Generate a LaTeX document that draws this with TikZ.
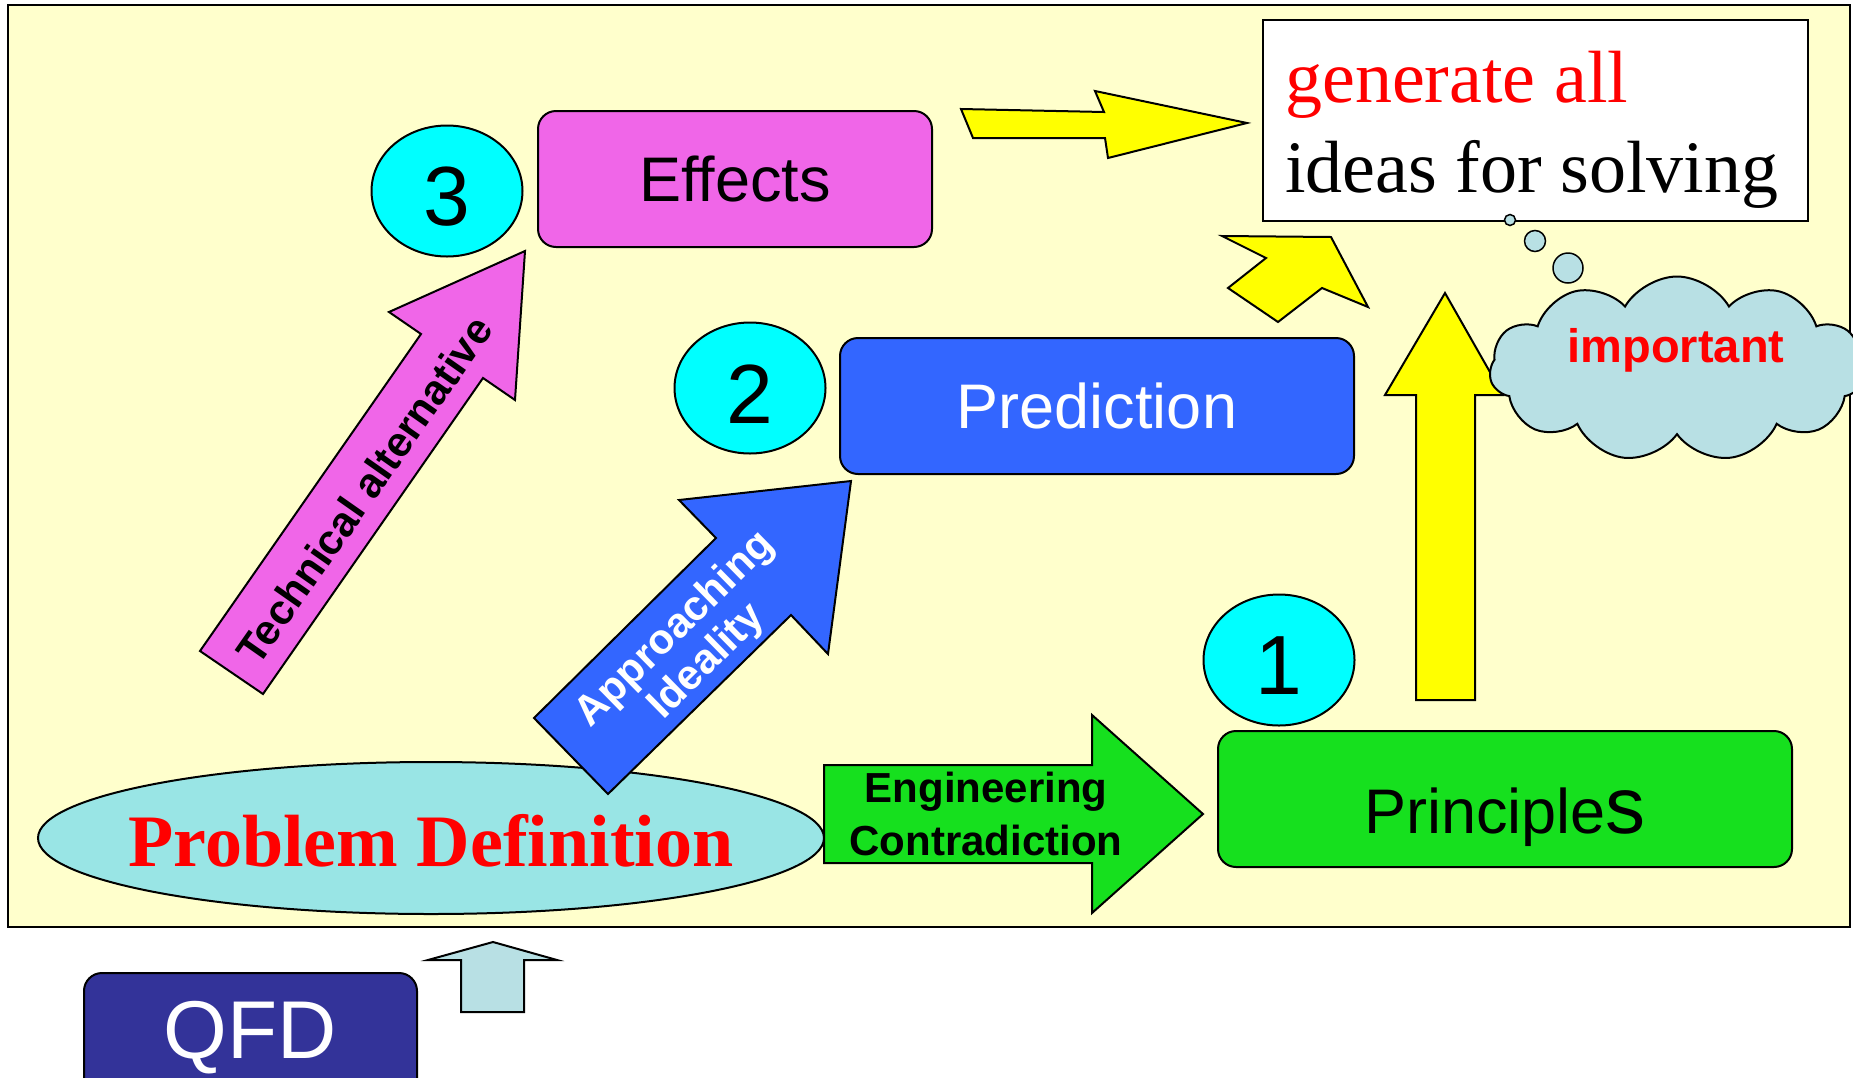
\documentclass[tikz,border=0pt]{standalone}
\usepackage{fontspec}
\setmainfont{Liberation Serif}
\setsansfont{Liberation Sans}
\usetikzlibrary{shapes.geometric,shapes.symbols}
\definecolor{bgy}{RGB}{255,255,204}
\definecolor{magc}{RGB}{240,102,232}
\definecolor{bluec}{RGB}{51,102,255}
\definecolor{greenc}{RGB}{22,224,30}
\definecolor{ellc}{RGB}{153,229,229}
\definecolor{cyanc}{RGB}{0,255,255}
\definecolor{yel}{RGB}{255,255,0}
\definecolor{cloudc}{RGB}{184,224,228}
\definecolor{qfdc}{RGB}{51,51,153}
\tikzset{
  outl/.style={draw=black, line width=2pt, line join=miter},
  rbox/.style={outl, rounded corners=18pt, inner sep=0pt},
  numc/.style={ellipse, outl, fill=cyanc, minimum width=151pt, minimum height=131pt, inner sep=0pt},
  numt/.style={inner sep=0pt, font=\sffamily\fontsize{84}{90}\selectfont},
  boxt/.style={inner sep=0pt, font=\sffamily\fontsize{63}{70}\selectfont},
  lbl/.style={inner sep=0pt, font=\sffamily\bfseries\fontsize{42}{45}\selectfont},
  serift/.style={inner sep=0pt, anchor=base west, font=\rmfamily\fontsize{74}{80}\selectfont},
  bubble/.style={circle, draw=black, line width=1.5pt, fill=cloudc, inner sep=0pt}
}
\begin{document}
\begin{tikzpicture}[x=1pt,y=-1pt]
\useasboundingbox (0,0) rectangle (1853,1077);
% background panel
\fill[bgy] (8,5) rectangle (1850,927);
\draw[line width=2pt] (8,5) rectangle (1850,927);

% idea text box
\node[outl, fill=white, minimum width=545pt, minimum height=201pt, inner sep=0pt] (idea) at (1535.5,120.5) {};
\node[serift, text=red] (gen) at (1285,102) {generate all};
\node[serift, text=black] (ideas) at (1285,192) {ideas for solving};

% thought bubbles
\node[bubble, minimum size=11pt] (b1) at (1510,220) {};
\node[bubble, minimum size=21pt] (b2) at (1535,241) {};
\node[bubble, minimum size=30pt] (b3) at (1568,268) {};

% yellow arrow from Effects
\draw[outl, fill=yel] (961,109) -- (1104,112) -- (1095,91) -- (1247,123) -- (1108,158) -- (1105,138) -- (973,138) -- cycle;

% Effects
\node[rbox, fill=magc, minimum width=394pt, minimum height=136pt] (eff) at (735,179) {};
\node[boxt] at (eff.center) {Effects};
\node[numc] (c3) at (447,191) {};
\node[numt, yshift=-6pt] at (c3.center) {3};

% Technical alternative arrow
\draw[outl, fill=magc] (525,251) -- (389,312) -- (421,334) -- (200,651) -- (263,694) -- (483,378) -- (515,400) -- cycle;
\node[lbl, rotate=55] at (364,490) {Technical alternative};

% Prediction
\node[rbox, fill=bluec, minimum width=514pt, minimum height=136pt] (pred) at (1097,406) {};
\node[boxt, text=white] at (pred.center) {Prediction};
\node[numc] (c2) at (750,388) {};
\node[numt, yshift=-6pt] at (c2.center) {2};

% bent yellow arrow
\draw[outl, fill=yel] (1222,236) -- (1331,237) -- (1368,307) -- (1322,288) -- (1278,322) -- (1228,288) -- (1266,258) -- cycle;

% up yellow arrow
\draw[outl, fill=yel] (1416,700) -- (1416,395) -- (1385,395) -- (1445,293) -- (1503,395) -- (1475,395) -- (1475,700) -- cycle;

% cloud
\node[cloud, cloud puffs=11, cloud puff arc=120, cloud ignores aspect, outl, fill=cloudc, minimum width=375pt, minimum height=185pt, inner sep=0pt] (cl) at (1677,369) {};
\node[inner sep=0pt, anchor=base, text=red, font=\sffamily\bfseries\fontsize{47}{50}\selectfont] at (1676,362) {important};

% Problem Definition
\node[ellipse, outl, fill=ellc, minimum width=786pt, minimum height=152pt, inner sep=0pt] (prob) at (431,838) {};
\node[inner sep=0pt, anchor=base, text=red, font=\rmfamily\bfseries\fontsize{74}{80}\selectfont] at (431,866) {Problem Definition};

% Approaching Ideality arrow
\draw[outl, fill=bluec] (851,481) -- (679,500) -- (716,538) -- (534,718) -- (608,794) -- (791,615) -- (828,654) -- cycle;
\node[lbl, text=white, rotate=44.5, align=center] at (691.5,646) {Approaching\\Ideality};

% Engineering Contradiction arrow
\draw[outl, fill=greenc] (824,765) -- (1092,765) -- (1092,715) -- (1203,814) -- (1092,913) -- (1092,863) -- (824,863) -- cycle;
\node[lbl, align=center, font=\sffamily\bfseries\fontsize{42}{53}\selectfont] at (986,814) {Engineering\\Contradiction};

% Principles
\node[numc] (c1) at (1279,660) {};
\node[numt, yshift=-6pt] at (c1.center) {1};
\node[rbox, fill=greenc, minimum width=574pt, minimum height=136pt] (princ) at (1505,799) {};
\node[inner sep=0pt, anchor=base, font=\sffamily\fontsize{63}{70}\selectfont] at (1505,833) {Principle{\fontsize{80}{80}\selectfont s}};

% QFD
\node[rbox, fill=qfdc, minimum width=333pt, minimum height=130pt] (qfd) at (250.5,1038) {};
\node[inner sep=0pt, anchor=base, text=white, font=\sffamily\fontsize{82}{86}\selectfont] at (250,1058) {QFD};
\draw[outl, fill=cloudc] (461,1012) -- (461,960) -- (428,960) -- (493,942) -- (557,960) -- (524,960) -- (524,1012) -- cycle;
\end{tikzpicture}
\end{document}
